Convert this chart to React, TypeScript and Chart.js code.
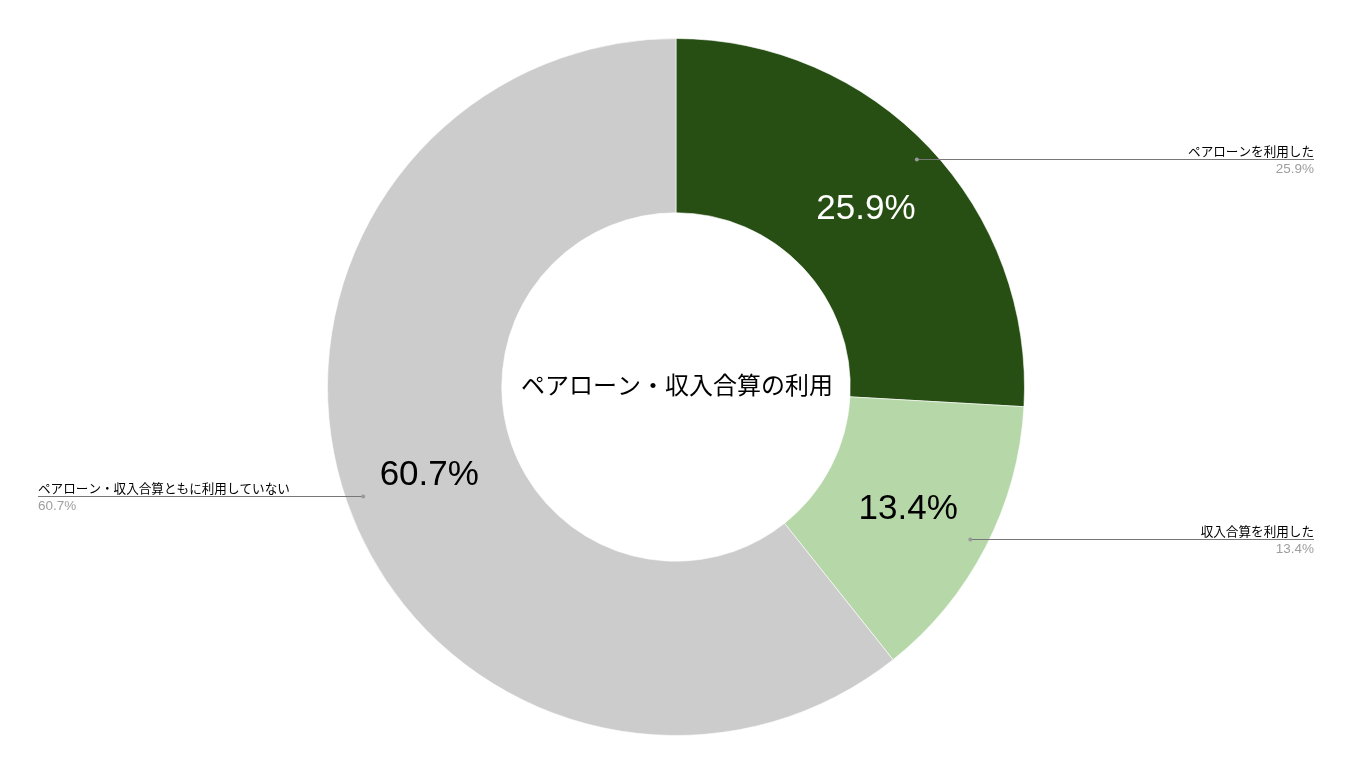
import { useEffect, useRef } from "react";
import { Chart, ChartConfiguration, Plugin, registerables } from "chart.js";

Chart.register(...registerables);

const title = "ペアローン・収入合算の利用";
const categories = [
  "ペアローンを利用した",
  "収入合算を利用した",
  "ペアローン・収入合算ともに利用していない",
];
const shares = [25.9, 13.4, 60.7];
const sliceColors = ["#274e13", "#b6d7a8", "#cccccc"];
const insideTextColors = ["#ffffff", "#000000", "#000000"];

const JP = '"Liberation Sans", Arial, "Noto Sans CJK JP", sans-serif';

const labelPlugin: Plugin<"doughnut"> = {
  id: "sliceLabels",
  afterDraw(chart) {
    const ctx = chart.ctx;
    const meta = chart.getDatasetMeta(0);
    const W = chart.width;

    ctx.save();
    // centre title
    const c0 = meta.data[0] as any;
    ctx.fillStyle = "#000000";
    ctx.font = `24px ${JP}`;
    ctx.textAlign = "center";
    ctx.textBaseline = "middle";
    ctx.fillText(title, c0.x + 1, c0.y);

    meta.data.forEach((el: any, i: number) => {
      const { x, y, startAngle, endAngle, innerRadius, outerRadius } =
        el.getProps(["x", "y", "startAngle", "endAngle", "innerRadius", "outerRadius"], true);
      const mid = (startAngle + endAngle) / 2;
      const cos = Math.cos(mid);
      const sin = Math.sin(mid);
      const value = shares[i].toFixed(1) + "%";

      // value inside the slice
      const rm = (innerRadius + outerRadius) / 2;
      ctx.fillStyle = insideTextColors[i];
      ctx.font = `35px ${JP}`;
      ctx.textAlign = "center";
      ctx.textBaseline = "middle";
      ctx.fillText(value, x + rm * cos, y + rm * sin + 2);

      // leader line
      const rd = outerRadius * 0.951;
      const dx = x + rd * cos;
      const dy = Math.round(y + rd * sin) + 0.5;
      const right = cos >= 0;
      const endX = right ? W - 39 : 38;

      ctx.strokeStyle = "#777777";
      ctx.lineWidth = 1;
      ctx.beginPath();
      ctx.moveTo(dx, dy);
      ctx.lineTo(endX, dy);
      ctx.stroke();

      ctx.fillStyle = "#999999";
      ctx.beginPath();
      ctx.arc(dx, dy, 2, 0, Math.PI * 2);
      ctx.fill();

      ctx.textAlign = right ? "right" : "left";
      ctx.font = `12.6px ${JP}`;
      ctx.fillStyle = "#000000";
      ctx.textBaseline = "bottom";
      ctx.fillText(categories[i], endX, dy - 1);

      ctx.font = `13.5px ${JP}`;
      ctx.fillStyle = "#9e9e9e";
      ctx.textBaseline = "top";
      ctx.fillText(value, endX, dy + 3);
    });
    ctx.restore();
  },
};

export default function App() {
  const canvasRef = useRef<HTMLCanvasElement | null>(null);
  const chartRef = useRef<Chart<"doughnut"> | null>(null);

  useEffect(() => {
    document.body.style.margin = "0";
    const canvas = canvasRef.current;
    if (!canvas) return;

    const config: ChartConfiguration<"doughnut", number[], string> = {
      type: "doughnut",
      data: {
        labels: categories,
        datasets: [
          {
            data: shares,
            backgroundColor: sliceColors,
            borderColor: "rgba(255,255,255,0.6)",
            borderWidth: 1,
          },
        ],
      },
      options: {
        responsive: false,
        animation: false,
        cutout: "50%",
        layout: { padding: { top: 38, bottom: 39, left: 0, right: 1 } },
        plugins: {
          legend: { display: false },
          tooltip: { enabled: false },
        },
      },
      plugins: [labelPlugin],
    };

    chartRef.current = new Chart(canvas, config);

    return () => {
      if (chartRef.current) {
        chartRef.current.destroy();
        chartRef.current = null;
      }
    };
  }, []);

  return (
    <div style={{ position: "absolute", left: 0, top: 0, width: 1353, height: 775, background: "#ffffff" }}>
      <canvas ref={canvasRef} width={1353} height={775} />
    </div>
  );
}
